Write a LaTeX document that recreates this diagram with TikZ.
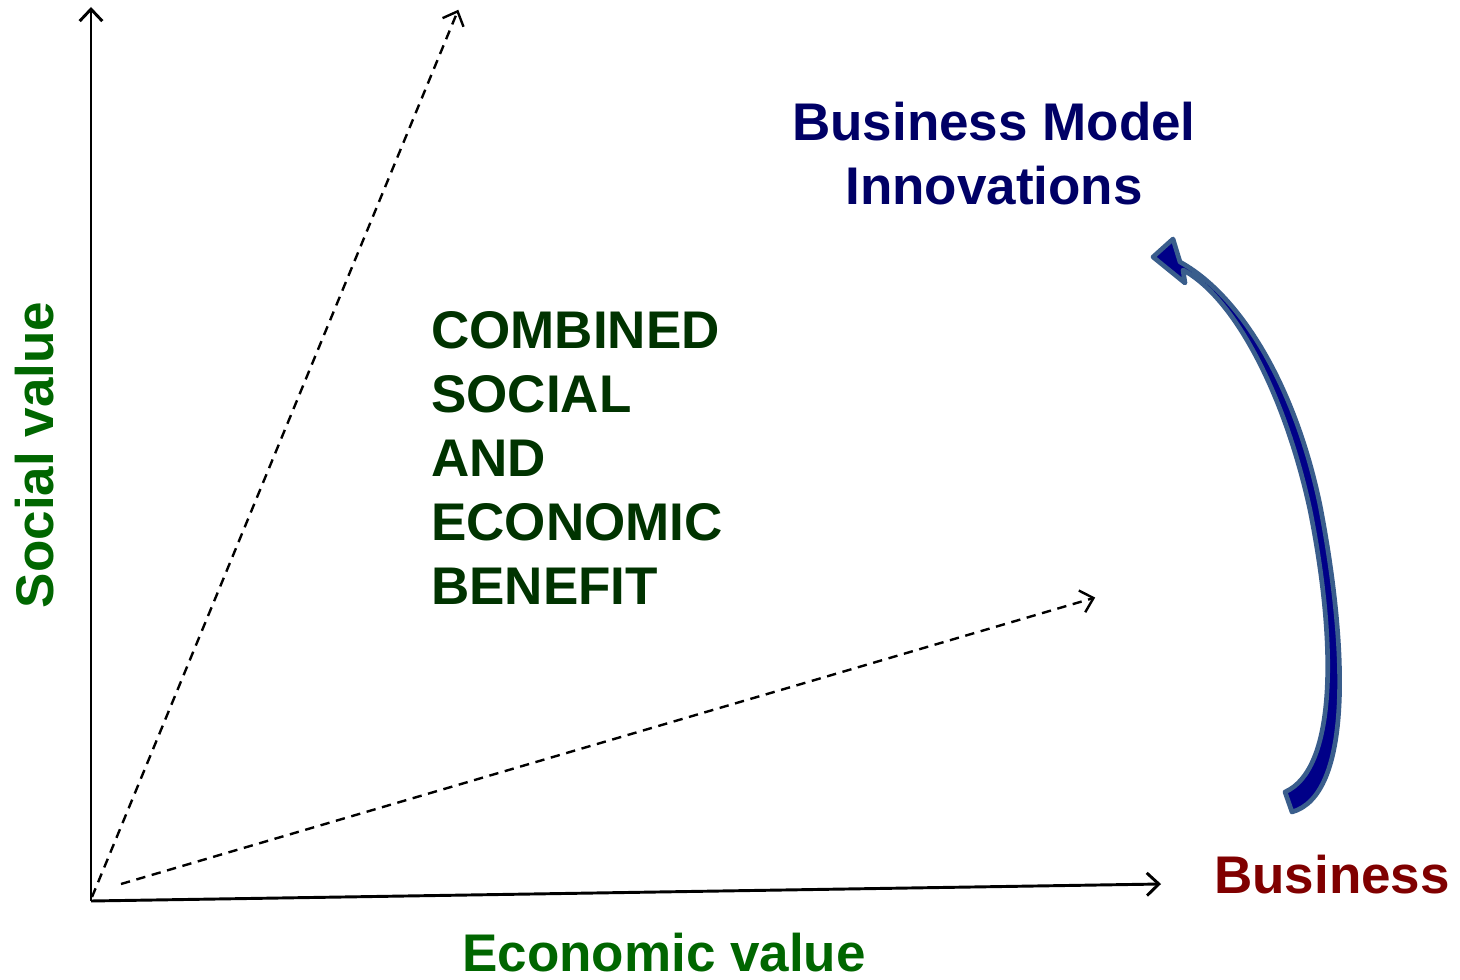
\documentclass[tikz,border=0pt]{standalone}
\usepackage{fontspec}
\setmainfont{Liberation Sans}
\usetikzlibrary{arrows.meta}
\definecolor{bmblue}{HTML}{000066}
\definecolor{cgreen}{HTML}{003300}
\definecolor{vgreen}{HTML}{006600}
\definecolor{bred}{HTML}{800000}
\definecolor{arrfill}{HTML}{000088}
\definecolor{arredge}{HTML}{3A5E8C}
\tikzset{
  lbl/.style={inner sep=0pt, font=\fontsize{39.75}{48}\selectfont\bfseries},
  axis/.style={line width=2.2pt, -{Straight Barb[length=9pt,width=17pt,line width=2.2pt]}},
  dashax/.style={line width=1.8pt, dash pattern=on 7pt off 5pt, -{Straight Barb[length=9pt,width=17pt,line width=1.8pt,sep]}}
}
\begin{document}
\begin{tikzpicture}[x=0.75pt,y=-0.75pt]
\useasboundingbox (0,0) rectangle (1460,980);
\coordinate (O) at (91,901);
\coordinate (Ytop) at (91,7);
\coordinate (Xend) at (1161,884);
\coordinate (D1s) at (92,897);
\coordinate (D1e) at (459,8);
\coordinate (D2s) at (121,884);
\coordinate (D2e) at (1097,597);
\draw[axis] (O) -- (Ytop);
\draw[axis] (O) -- (Xend);
\draw[dashax] (D1s) -- (D1e);
\draw[dashax] (D2s) -- (D2e);

\node[lbl, text=bmblue, anchor=base, align=center] (bmi) at (994,205) {Business Model\\Innovations};
\node[lbl, text=cgreen, anchor=base west, align=left] (comb) at (431,604) {COMBINED\\SOCIAL\\AND\\ECONOMIC\\BENEFIT};
\node[lbl, text=vgreen, anchor=base, rotate=90] (soc) at (53,455) {Social value};
\node[lbl, text=vgreen, anchor=base] (eco) at (664,971) {Economic value};
\node[lbl, text=bred, anchor=base] (bus) at (1332,893) {Business};

\filldraw[fill=arrfill, draw=arredge, line width=3.5pt, line join=round]
  (1292,812) .. controls (1352,795) and (1348,650) .. (1320,505)
  .. controls (1295,385) and (1240,295) .. (1180,262)
  -- (1173,239) -- (1153,257) -- (1185,283) -- (1183,270)
  .. controls (1235,298) and (1285,395) .. (1310,510)
  .. controls (1338,650) and (1335,770) .. (1285,792) -- cycle;
\end{tikzpicture}
\end{document}
